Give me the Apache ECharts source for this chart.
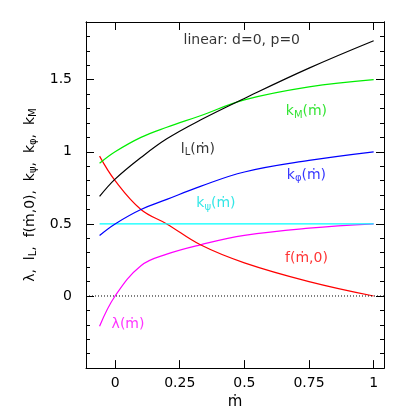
<!DOCTYPE html><html><head><meta charset="utf-8">
<script src="https://cdn.jsdelivr.net/npm/echarts@6/dist/echarts.min.js"></script>
<style>html,body{margin:0;background:#fff}#c{width:415px;height:415px}</style></head><body><div id="c"></div>
<script>
const mdot = [-0.06, 0, 0.1, 0.2, 0.33, 0.5, 0.75, 1.0];
const lambda = [-0.21, 0.0, 0.21, 0.29, 0.355, 0.42, 0.47, 0.5];
const fm0 = [0.97, 0.8, 0.6, 0.5, 0.355, 0.23, 0.1, 0.0];
const kpsi = [0.5, 0.5, 0.5, 0.5, 0.5, 0.5, 0.5, 0.5];
const kphi = [0.42, 0.5, 0.6, 0.67, 0.76, 0.86, 0.94, 1.0];
const kM = [0.92, 1.0, 1.1, 1.17, 1.25, 1.36, 1.45, 1.5];
const lL = [0.69, 0.81, 0.96, 1.09, 1.22, 1.37, 1.58, 1.77];
const xMajor = [0, 0.25, 0.5, 0.75, 1];
const yMajor = [0, 0.5, 1, 1.5];
const labels = [
  {x:0.05, y:-0.2, t:'λ(ṁ)', c:'#ff00ff'},
  {x:0.74, y:0.26, t:'f(ṁ,0)', c:'#ff0000'},
  {x:0.39, y:0.64, t:'k{s|ψ}(ṁ)', c:'#00e0e0'},
  {x:0.74, y:0.84, t:'k{s|φ}(ṁ)', c:'#0000ff'},
  {x:0.74, y:1.28, t:'k{s|M}(ṁ)', c:'#00dd00'},
  {x:0.32, y:1.02, t:'l{s|L}(ṁ)', c:'#000'},
  {x:0.49, y:1.77, t:'linear: d=0, p=0', c:'#000'}
];
const F = 'DejaVu Sans';
const xr = [-0.1125, 1.04], yr = [-0.5, 1.9];
const fmt = v=>String(+(+v).toFixed(2));
function xa(pos, lab){return {type:'value', position:pos, min:xr[0], max:xr[1],
  axisLine:{show:true,onZero:false,lineStyle:{color:'#000'}}, splitLine:{show:false},
  axisTick:{show:true,inside:true,length:8,lineStyle:{color:'#000'},customValues:xMajor},
  axisLabel:{show:lab,customValues:xMajor,color:'#000',fontFamily:F,fontSize:14,formatter:fmt},
  name:lab?'ṁ':'', nameLocation:'middle', nameGap:16, nameTextStyle:{color:'#000',fontFamily:F,fontSize:15}};}
function ya(pos, major, lab){return {type:'value', position:pos, min:yr[0], max:yr[1], interval:0.1,
  axisLine:{show:true,onZero:false,lineStyle:{color:'#000'}}, splitLine:{show:false},
  axisTick:{show:true,inside:true,length:major?8:4,lineStyle:{color:'#000'},customValues:major?yMajor:undefined},
  axisLabel:{show:lab,customValues:yMajor,color:'#000',fontFamily:F,fontSize:14,margin:14,formatter:fmt},
  name:lab?'λ,  l{s|L},  f(ṁ,0),  k{s|ψ},  k{s|φ},  k{s|M}':'', nameLocation:'middle', nameGap:46, nameRotate:90,
  nameTextStyle:{color:'#000',fontFamily:F,fontSize:14,rich:{s:{fontSize:10,verticalAlign:'bottom',padding:[6,0,0,0],fontFamily:F}}}};}
function line(d,c){return {type:'line',xAxisIndex:0,yAxisIndex:0,data:mdot.map((x,i)=>[x,d[i]]),smooth:0.4,showSymbol:false,lineStyle:{color:c,width:1.2},silent:true};}
const series=[line(lambda,'#ff00ff'),line(fm0,'#ff0000'),line(kpsi,'#00ffff'),line(kphi,'#0000ff'),line(kM,'#00ee00'),line(lL,'#000'),
 {type:'line',data:[[xr[0],0],[xr[1],0]],showSymbol:false,lineStyle:{color:'#000',width:1,type:[1,2]},silent:true},
 {type:'scatter',symbolSize:0,data:labels.map(l=>({value:[l.x,l.y],label:{show:true,position:'inside',formatter:l.t,color:l.c,fontFamily:F,fontSize:14,
   rich:{s:{fontSize:10,color:l.c,fontFamily:F,padding:[8,0,0,0]}}}})),silent:true}];
const grid={left:86,right:31,top:22,bottom:30};
echarts.init(document.getElementById('c')).setOption({animation:false,grid,
 xAxis:[xa('bottom',true),xa('top',false)],
 yAxis:[ya('left',true,true),ya('left',false,false),ya('right',true,false),ya('right',false,false)],
 series});
</script></body></html>
